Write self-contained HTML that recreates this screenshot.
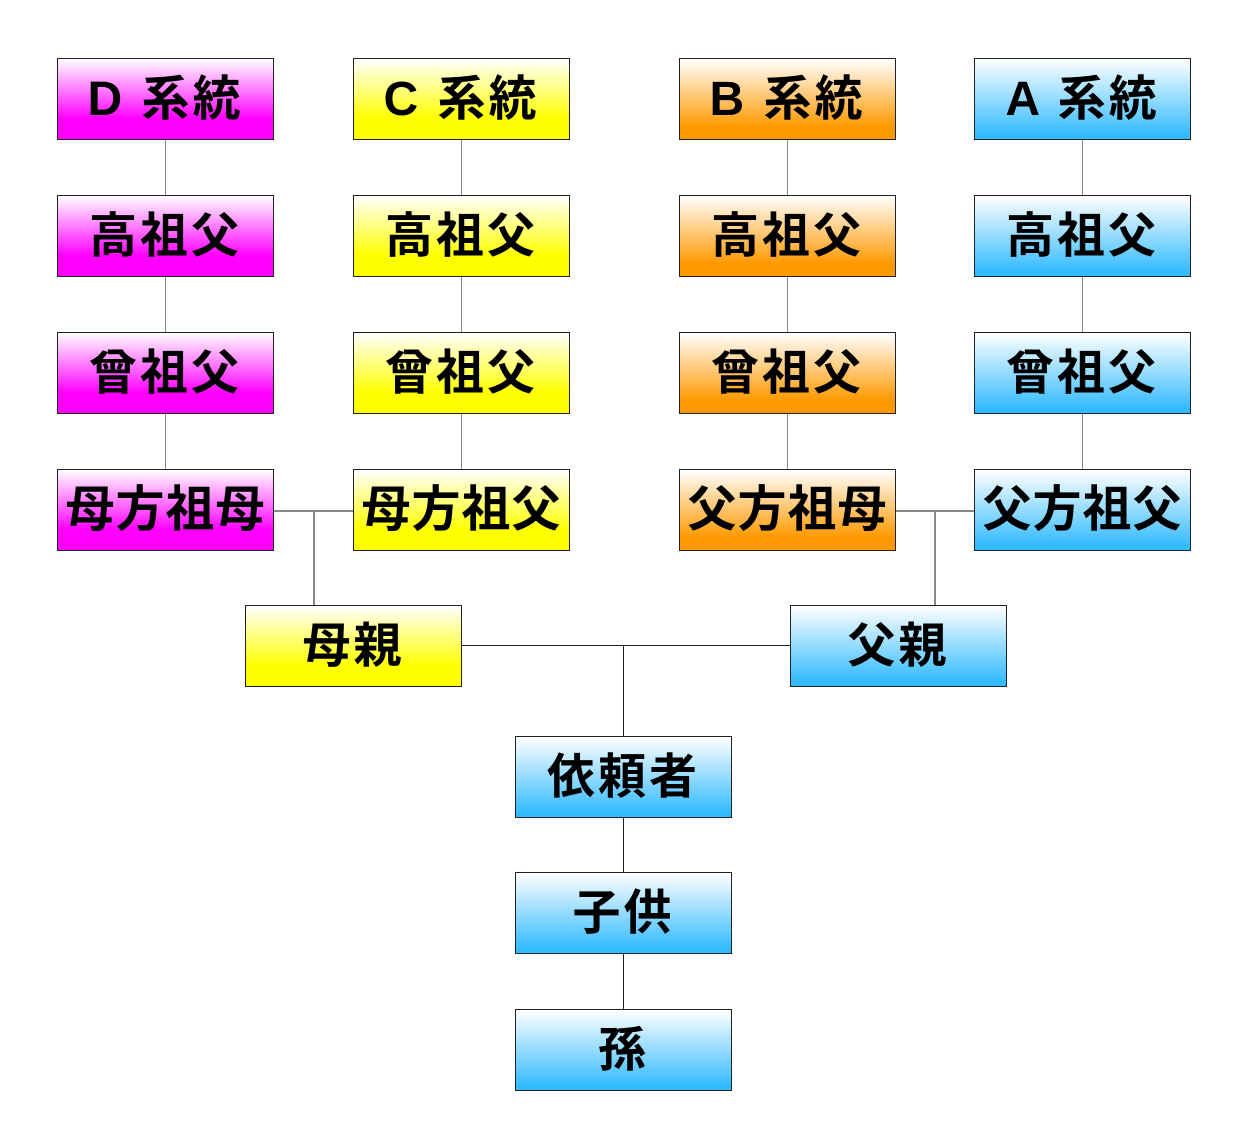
<!DOCTYPE html>
<html><head><meta charset="utf-8"><style>
body{margin:0;width:1247px;height:1142px;background:#fff;position:relative;overflow:hidden;font-family:"Liberation Sans","Noto Sans CJK JP",sans-serif;}
.b{position:absolute;width:215px;height:80px;border:1px solid #222;display:flex;align-items:center;justify-content:center;font-weight:bold;font-size:48px;letter-spacing:3px;color:#000;white-space:nowrap;box-sizing:content-box;}
.b span{position:relative;top:-5px;}
.f{font-size:49px;letter-spacing:1px;}
.m{background:linear-gradient(#fff,#f0f 75%);}
.y{background:linear-gradient(#fff,#ff0 75%);}
.o{background:linear-gradient(#fff,#f90 85%);}
.c{background:linear-gradient(#fff,#3bf 95%);}
.l{position:absolute;background:#888;}
.k{position:absolute;background:#222;}
</style></head><body>
<div class="l" style="left:165px;top:140px;width:1px;height:330px"></div>
<div class="l" style="left:461px;top:140px;width:1px;height:330px"></div>
<div class="l" style="left:787px;top:140px;width:1px;height:330px"></div>
<div class="l" style="left:1082px;top:140px;width:1px;height:330px"></div>
<div class="l" style="left:274px;top:510px;width:80px;height:2px"></div>
<div class="l" style="left:313px;top:510px;width:2px;height:96px"></div>
<div class="l" style="left:895px;top:510px;width:80px;height:2px"></div>
<div class="l" style="left:934px;top:510px;width:2px;height:96px"></div>
<div class="k" style="left:461px;top:645px;width:330px;height:1px"></div>
<div class="k" style="left:623px;top:645px;width:1px;height:445px"></div>

<div class="b m" style="left:57px;top:58px"><span>D 系統</span></div>
<div class="b y" style="left:353px;top:58px"><span>C 系統</span></div>
<div class="b o" style="left:679px;top:58px"><span>B 系統</span></div>
<div class="b c" style="left:974px;top:58px"><span>A 系統</span></div>

<div class="b m" style="left:57px;top:195px"><span>高祖父</span></div>
<div class="b y" style="left:353px;top:195px"><span>高祖父</span></div>
<div class="b o" style="left:679px;top:195px"><span>高祖父</span></div>
<div class="b c" style="left:974px;top:195px"><span>高祖父</span></div>

<div class="b m" style="left:57px;top:332px"><span>曾祖父</span></div>
<div class="b y" style="left:353px;top:332px"><span>曾祖父</span></div>
<div class="b o" style="left:679px;top:332px"><span>曾祖父</span></div>
<div class="b c" style="left:974px;top:332px"><span>曾祖父</span></div>

<div class="b m f" style="left:57px;top:469px"><span>母方祖母</span></div>
<div class="b y f" style="left:353px;top:469px"><span>母方祖父</span></div>
<div class="b o f" style="left:679px;top:469px"><span>父方祖母</span></div>
<div class="b c f" style="left:974px;top:469px"><span>父方祖父</span></div>

<div class="b y" style="left:245px;top:605px"><span>母親</span></div>
<div class="b c" style="left:790px;top:605px"><span>父親</span></div>
<div class="b c" style="left:515px;top:736px"><span>依頼者</span></div>
<div class="b c" style="left:515px;top:872px"><span>子供</span></div>
<div class="b c" style="left:515px;top:1009px"><span>孫</span></div>
</body></html>
